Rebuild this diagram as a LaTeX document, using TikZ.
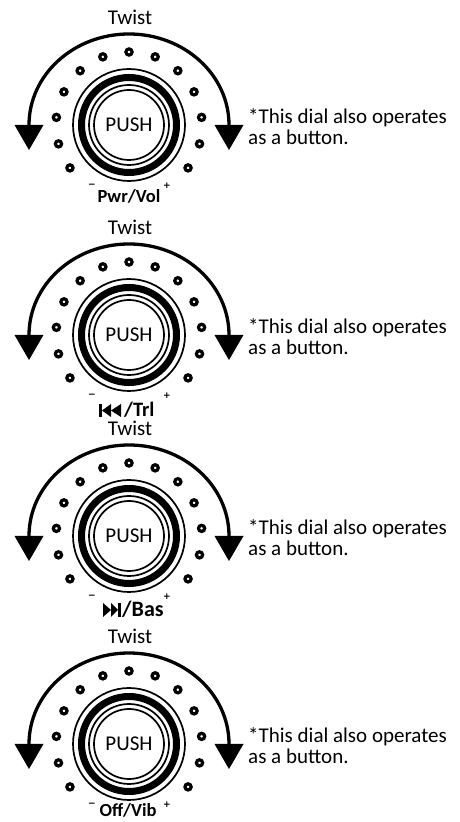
\documentclass[tikz,border=0pt]{standalone}
\usepackage{fontspec}
\setmainfont{Carlito}
\newfontfamily\signfont{DejaVu Sans}
\tikzset{
  dotring/.style={draw, line width=3.2pt, fill=white},
  thinring/.style={draw, line width=1.7pt},
  thickring/.style={draw, line width=7pt},
  twistarc/.style={draw, line width=3.3pt},
  headfill/.style={fill=black},
  txt/.style={font=\fontsize{21}{22}\selectfont, inner sep=0pt},
  lblA/.style={font=\fontsize{18.5}{20}\selectfont\bfseries, inner sep=0pt},
  lblB/.style={font=\fontsize{20.5}{22}\selectfont\bfseries, inner sep=0pt},
  lblC/.style={font=\fontsize{22}{24}\selectfont\bfseries, inner sep=0pt},
  sign/.style={font=\signfont\bfseries\fontsize{9}{10}\selectfont, inner sep=0pt},
}
\newcommand{\dialbody}[1]{%
  \foreach \a in {-36,-15,...,216} {\draw[dotring] (\a:73) circle[radius=3.1];}
  \draw[thinring] (0,0) circle[radius=56];
  \draw[thickring] (0,0) circle[radius=47.5];
  \draw[thinring] (0,0) circle[radius=40];
  \node[txt, draw, circle, line width=1.7pt, minimum size=70pt] (#1-push) at (0,0) {PUSH};
  \node[txt, anchor=base] (#1-twist) at (1,100) {Twist};
  \coordinate (#1-l) at (-100,0);
  \coordinate (#1-r) at (100,0);
  \draw[twistarc] (#1-l) arc[start angle=180, end angle=0, x radius=100, y radius=91];
  \fill[headfill] (-114.5,0) -- (-85.5,0) -- (-100,-25) -- cycle;
  \fill[headfill] (85.5,0) -- (114.5,0) -- (100,-25) -- cycle;
  \node[txt, anchor=base west] (#1-t1) at (119,1) {*This dial also operates};
  \node[txt, anchor=base west] (#1-t2) at (119,-20) {as a button.};
  \node[sign] (#1-minus) at (-37,-61) {−};
  \node[sign] (#1-plus) at (38,-61) {+};
}
\begin{document}
\begin{tikzpicture}[x=1pt, y=1pt]
\useasboundingbox (0,0) rectangle (460,822);
% dial 1
\begin{scope}[shift={(129,697)}]
  \dialbody{d1}
  \node[lblA, anchor=base] (d1-lab) at (0,-78) {Pwr/Vol};
\end{scope}
% dial 2
\begin{scope}[shift={(129,487)}]
  \dialbody{d2}
  \fill (-30,-82) rectangle (-27,-69);
  \fill (-27,-75.5) -- (-18,-69) -- (-18,-82) -- cycle;
  \fill (-18,-75.5) -- (-8,-69) -- (-8,-82) -- cycle;
  \node[lblB, anchor=base west] (d2-lab) at (-5,-82) {/Trl};
\end{scope}
% dial 3
\begin{scope}[shift={(129,286)}]
  \dialbody{d3}
  \fill (-26,-67) -- (-26,-81) -- (-18,-74) -- cycle;
  \fill (-18,-67) -- (-18,-81) -- (-11,-74) -- cycle;
  \fill (-11,-81) rectangle (-8,-67);
  \node[lblC, anchor=base west] (d3-lab) at (-7,-81) {/Bas};
\end{scope}
% dial 4
\begin{scope}[shift={(129,78)}]
  \dialbody{d4}
  \node[lblA, anchor=base] (d4-lab) at (-1,-72.5) {Off/Vib};
\end{scope}
\end{tikzpicture}
\end{document}
